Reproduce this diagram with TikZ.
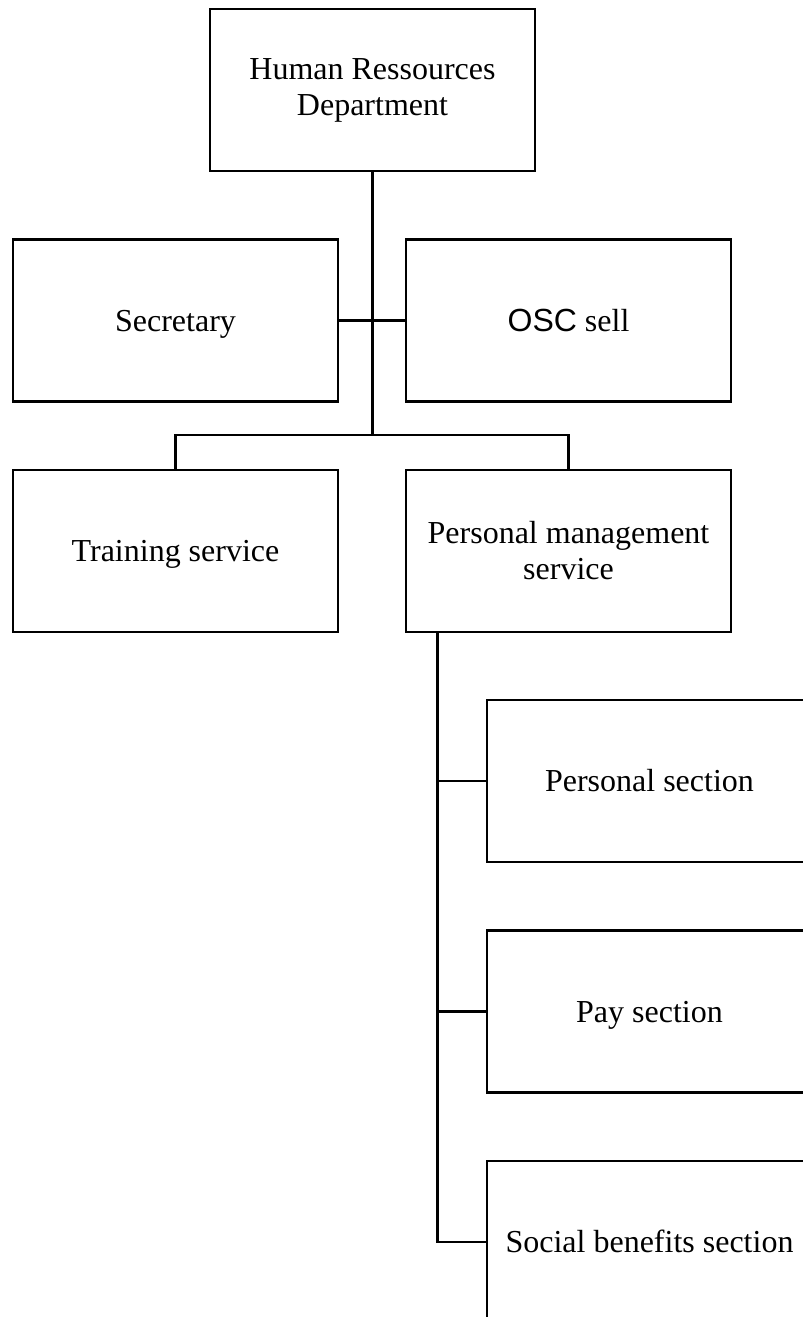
\documentclass[tikz,border=0pt]{standalone}
\usepackage{fontspec}
\setmainfont{Liberation Serif}
\newfontfamily\oscfont{Liberation Sans}
\begin{document}
\begin{tikzpicture}[x=1pt,y=-1pt,
  unit/.style={draw=black, line width=2.6pt, rectangle, inner sep=0pt,
    minimum width=325pt, minimum height=162pt, align=center,
    font=\fontsize{32pt}{36pt}\selectfont},
  oneline/.style={unit, text height=21.5pt, text depth=0pt},
  link/.style={draw=black, line width=2.6pt}]
\useasboundingbox (0,0) rectangle (803,1317);
\clip (0,0) rectangle (803,1317);
\fill[white] (0,0) rectangle (803,1317);
\node[unit] (hr) at (372.5,90) {Human Ressources\\Department};
\node[oneline] (sec) at (175.5,320.5) {Secretary};
\node[oneline] (osc) at (568.5,320.5) {{\oscfont OSC} sell};
\node[oneline] (train) at (175.5,551) {Training service};
\node[unit] (pms) at (568.5,551) {Personal management\\service};
\node[oneline] (ps) at (649.5,781) {Personal section};
\node[oneline] (pay) at (649.5,1011.5) {Pay section};
\node[oneline] (soc) at (649.5,1242) {Social benefits section};
\coordinate (bar) at (372.5,435);
\coordinate (stem) at ([xshift=33pt]pms.south west);
\draw[link] (hr.south) -- (bar);
\draw[link] (sec.east) -- (osc.west);
\draw[link] (train.north) |- (bar) -| (pms.north);
\draw[link] (stem) |- (soc.west);
\draw[link] (stem) |- (ps.west);
\draw[link] (stem) |- (pay.west);
\end{tikzpicture}
\end{document}
